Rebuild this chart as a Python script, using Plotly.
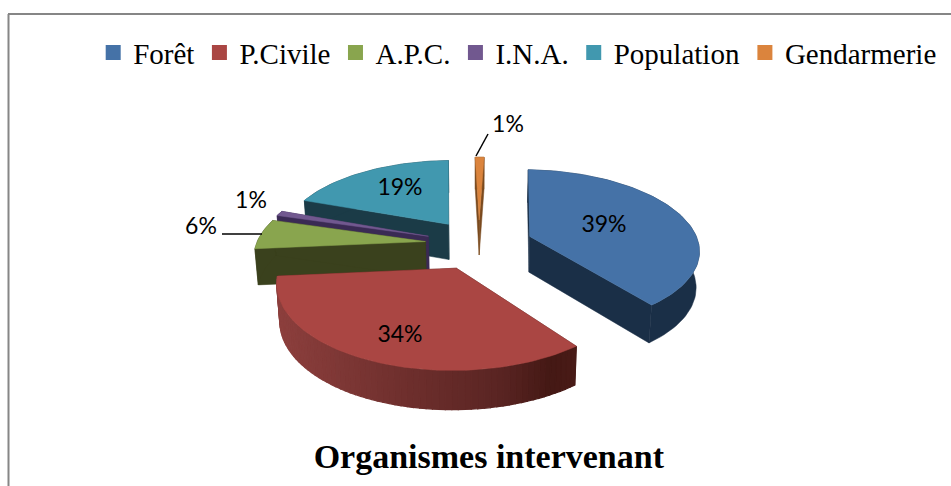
import math
import plotly.graph_objects as go

categories = ["Forêt", "P.Civile", "A.P.C.", "I.N.A.", "Population", "Gendarmerie"]
values = [39, 34, 6, 1, 19, 1]
value_labels = ["39%", "34%", "6%", "1%", "19%", "1%"]
title_text = "Organismes intervenant"

top_colors = ["#4572A7", "#AA4643", "#89A54E", "#71588F", "#4198AF", "#DB843D"]
wall_colors = ["#1A2F47", "#4A1C18", "#3A411D", "#3A2A54", "#1B3B47", "#7A4A1F"]
draw_order = [4, 5, 3, 2, 0, 1]
label_pos = [(604, 226), (400, 336), (201, 228), (251, 202), (400, 189), (508, 126)]
red_wall_stops = [(280, (140, 63, 61)), (400, (112, 48, 46)), (500, (90, 37, 35)),
                  (550, (69, 25, 21)), (580, (74, 28, 24))]

CX, CY, R, K, P, EXPL, DEPTH, SHRINK = 479, 244, 169, 78.8, 0.15, 0.32, 36, 0.985
ROT = math.radians(2)
FONT_SERIF = "Liberation Serif"


def project(u, v, drop=0.0):
    s = 1 / (1 - P * v)
    d = drop * (DEPTH + 4 * v)
    f = SHRINK if drop else 1
    return CX + f * u * R * s, CY + f * v * K * s + d


def disc(theta):
    return math.sin(theta + ROT), -math.cos(theta + ROT)


def wall_color(x):
    if x <= red_wall_stops[0][0]:
        c = red_wall_stops[0][1]
    else:
        c = red_wall_stops[-1][1]
        for (x0, c0), (x1, c1) in zip(red_wall_stops, red_wall_stops[1:]):
            if x0 <= x <= x1:
                t = (x - x0) / (x1 - x0)
                c = tuple(c0[k] + t * (c1[k] - c0[k]) for k in range(3))
                break
    return "rgb(%d,%d,%d)" % tuple(c)


def poly(fig, pts, color, width=0.5):
    xs = [p[0] for p in pts] + [pts[0][0]]
    ys = [p[1] for p in pts] + [pts[0][1]]
    fig.add_trace(go.Scatter(x=xs, y=ys, mode="lines", fill="toself", fillcolor=color,
                             line=dict(color=color, width=width), hoverinfo="skip",
                             showlegend=False))


fig = go.Figure()
total = sum(values)
starts = []
acc = 0
for v in values:
    starts.append(acc)
    acc += v

for i in draw_order:
    a0 = starts[i] / total * 2 * math.pi
    a1 = (starts[i] + values[i]) / total * 2 * math.pi
    mid = (a0 + a1) / 2 + ROT
    mu, mv = math.sin(mid), -math.cos(mid)
    ou, ov = EXPL * mu, EXPL * mv
    n = max(3, int(values[i] * 2))
    angles = [a0 + (a1 - a0) * k / n for k in range(n + 1)]
    rim = [(ou + disc(a)[0], ov + disc(a)[1]) for a in angles]

    for end in (rim[0], rim[-1]):
        poly(fig, [project(ou, ov), project(*end), project(*end, 1), project(ou, ov, 1)], wall_colors[i])
    if i == 1:
        for (p, q) in zip(rim, rim[1:]):
            pts = [project(*p), project(*q), project(*q, 1), project(*p, 1)]
            poly(fig, pts, wall_color((pts[0][0] + pts[1][0]) / 2), 1.2)
    else:
        poly(fig, [project(*p) for p in rim] + [project(*p, 1) for p in reversed(rim)], wall_colors[i])
    poly(fig, [project(ou, ov)] + [project(*p) for p in rim], top_colors[i])

for name, col in zip(categories, top_colors):
    fig.add_trace(go.Scatter(x=[None], y=[None], mode="markers", name=name,
                             marker=dict(symbol="square", size=15, color=col)))

fig.add_trace(go.Scatter(x=[p[0] for p in label_pos], y=[p[1] for p in label_pos],
                         mode="text", text=value_labels, showlegend=False, hoverinfo="skip",
                         textfont=dict(family="Lato", size=23, color="#000000")))

fig.update_layout(
    width=951, height=486, margin=dict(l=0, r=0, t=0, b=0),
    paper_bgcolor="white", plot_bgcolor="white",
    xaxis=dict(range=[0, 951], visible=False, fixedrange=True),
    yaxis=dict(range=[486, 0], visible=False, fixedrange=True),
    legend=dict(orientation="h", x=0.098, y=0.944, xanchor="left", yanchor="top",
                itemsizing="trace", font=dict(family=FONT_SERIF, size=29, color="#000000"),
                bgcolor="rgba(0,0,0,0)"),
    title=dict(text="<b>" + title_text + "</b>", x=0.514, y=0.062, xanchor="center", yanchor="middle",
               font=dict(family=FONT_SERIF, size=34, color="#000000")),
    shapes=[
        dict(type="line", xref="x", yref="y", x0=8.5, x1=8.5, y0=14, y1=486, line=dict(color="#868686", width=2)),
        dict(type="line", xref="x", yref="y", x0=8, x1=951, y0=14, y1=14, line=dict(color="#868686", width=2)),
        dict(type="line", xref="x", yref="y", x0=222, x1=262, y0=234, y1=234, line=dict(color="#000000", width=1.5)),
        dict(type="line", xref="x", yref="y", x0=476, x1=488, y0=156, y1=134, line=dict(color="#000000", width=1.5)),
    ],
)
fig.write_html("out.html", post_script="document.body.style.margin='0';", config={"displayModeBar": False})
